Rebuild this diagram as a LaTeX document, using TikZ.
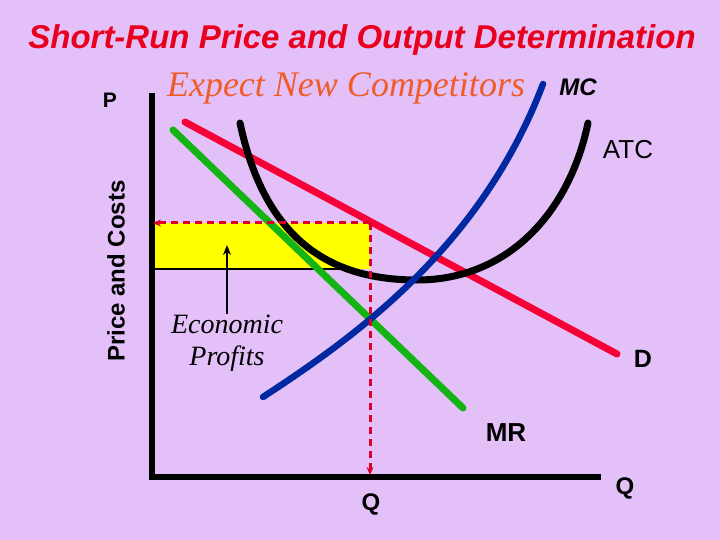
\documentclass[tikz,border=0pt]{standalone}
\usepackage{fontspec}
\setmainfont{Liberation Sans}
\newfontfamily\serifit{Liberation Serif}
\usetikzlibrary{arrows.meta}
\definecolor{bg}{RGB}{227,192,248}
\definecolor{titlered}{RGB}{232,0,30}
\definecolor{exporange}{RGB}{240,92,40}
\definecolor{dred}{RGB}{245,0,55}
\definecolor{mrgreen}{RGB}{20,180,20}
\definecolor{mcblue}{RGB}{0,40,160}
\definecolor{dashred}{RGB}{220,0,40}
\definecolor{fillyellow}{RGB}{255,255,0}
\tikzset{
  curve/.style={line width=7pt, line cap=round},
  axisline/.style={line width=6pt},
  dashq/.style={dashred, line width=3pt, dash pattern=on 7pt off 5pt, -{Stealth[length=8pt,width=7pt]}},
  lbl/.style={inner sep=0pt, font=\bfseries\fontsize{24}{28}\selectfont},
  econ/.style={inner sep=0pt, align=center, font=\serifit\itshape\fontsize{28}{33}\selectfont}
}
\begin{document}
\begin{tikzpicture}[x=1pt,y=-1pt]
\fill[bg] (0,0) rectangle (720,540);
\useasboundingbox (0,0) rectangle (720,540);
% yellow profit area
\fill[fillyellow] (155,223) rectangle (370,269);
\draw[line width=2pt] (152,269) -- (350,269);
% axes
\draw[axisline] (152,93) -- (152,477) -- (601,477);
% curves
\draw[curve, dred] (185,122) -- (617,354);
\draw[curve, mrgreen] (173,130) -- (463,408);
\draw[curve, black] (240,123) .. controls (265,240) and (330,280) .. (417,280)
                              .. controls (510,280) and (570,210) .. (588,123);
\draw[curve, mcblue, line width=6.5pt] (263,397) .. controls (350,340) and (480,250) .. (543,84);
% dashed lines
\coordinate (pq) at (370,223);
\coordinate (py) at (153,223);
\coordinate (qx) at (370,475);
\draw[dashq] (pq) -- (py);
\draw[dashq] (pq) -- (qx);
% texts
\node[inner sep=0pt, text=titlered, font=\bfseries\itshape\fontsize{33}{38}\selectfont] (title) at (362,40) {Short-Run Price and Output Determination};
\node[inner sep=0pt, text=exporange, font=\serifit\itshape\fontsize{36}{40}\selectfont] (expect) at (346,88) {Expect New Competitors};
\node[lbl, font=\bfseries\itshape\fontsize{24}{28}\selectfont] (mc) at (578,87) {MC};
\node[inner sep=0pt, font=\fontsize{26}{30}\selectfont] (atc) at (628,150) {ATC};
\node[lbl, font=\bfseries\fontsize{25}{30}\selectfont] (d) at (643,359) {D};
\node[lbl, font=\bfseries\fontsize{26}{30}\selectfont] (mr) at (506,433) {MR};
\node[lbl] (q1) at (371,504) {Q};
\node[lbl] (q2) at (625,488) {Q};
\node[lbl, font=\bfseries\fontsize{21}{25}\selectfont] (p) at (110,100) {P};
\node[lbl, rotate=90] (pc) at (116,271) {Price and Costs};
\node[econ] (econ) at (227,343) {Economic\\[-1pt]Profits};
\coordinate (rectpt) at (227,245);
\draw[line width=2pt, -{Stealth[length=10pt,width=8pt]}] (227,314) -- (rectpt);
\end{tikzpicture}
\end{document}
